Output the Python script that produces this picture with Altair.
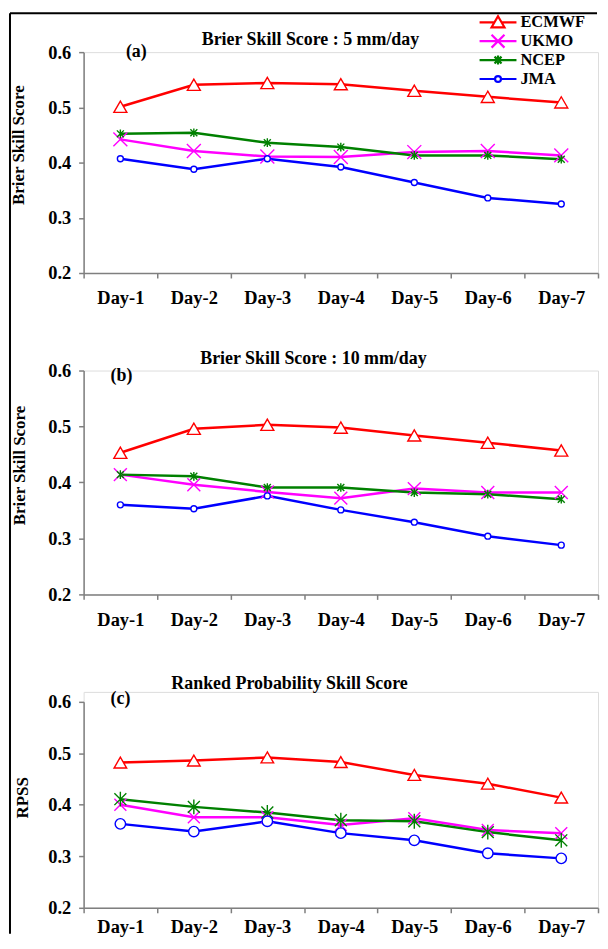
import altair as alt
import pandas as pd

days = ["Day-1", "Day-2", "Day-3", "Day-4", "Day-5", "Day-6", "Day-7"]
models = ["ECMWF", "UKMO", "NCEP", "JMA"]
colors = ["#FF0000", "#FF00FF", "#008000", "#0000FF"]

# (a) Brier Skill Score : 5 mm/day
bss5_ecmwf = [0.501, 0.541, 0.544, 0.542, 0.530, 0.519, 0.509]
bss5_ukmo = [0.442, 0.421, 0.411, 0.410, 0.419, 0.421, 0.413]
bss5_ncep = [0.452, 0.454, 0.436, 0.428, 0.413, 0.413, 0.406]
bss5_jma = [0.407, 0.388, 0.407, 0.392, 0.364, 0.336, 0.325]

# (b) Brier Skill Score : 10 mm/day
bss10_ecmwf = [0.453, 0.496, 0.503, 0.498, 0.484, 0.471, 0.457]
bss10_ukmo = [0.414, 0.396, 0.383, 0.372, 0.389, 0.382, 0.382]
bss10_ncep = [0.414, 0.411, 0.391, 0.391, 0.382, 0.379, 0.370]
bss10_jma = [0.360, 0.353, 0.376, 0.351, 0.329, 0.304, 0.288]

# (c) Ranked Probability Skill Score
rpss_ecmwf = [0.482, 0.486, 0.492, 0.483, 0.458, 0.441, 0.414]
rpss_ukmo = [0.400, 0.376, 0.376, 0.361, 0.374, 0.351, 0.345]
rpss_ncep = [0.411, 0.396, 0.385, 0.370, 0.368, 0.347, 0.331]
rpss_jma = [0.363, 0.348, 0.368, 0.345, 0.331, 0.306, 0.296]

y_ticks = [0.2, 0.3, 0.4, 0.5, 0.6]

FONT = "Liberation Serif"
W = 517

X_PATH = "M-1,-1L1,1M-1,1L1,-1"
STAR_PATH = "M-1,-1L1,1M-1,1L1,-1M0,-1.25L0,1.25"
marker_shapes = ["triangle-up", X_PATH, STAR_PATH, "circle"]

# legend symbols: line with the marker drawn on it (unit = 9 px)
legend_paths = [
    "M-2.06,0H-0.39M0.39,0H2.06M0,-0.68L0.72,0.56L-0.72,0.56Z",
    "M-2.06,0H2.06M-0.72,-0.72L0.72,0.72M-0.72,0.72L0.72,-0.72",
    "M-2.06,0H2.06M-0.39,-0.39L0.39,0.39M-0.39,0.39L0.39,-0.39M0,-0.5V0.5",
    "M-2.06,0H-0.33M0.33,0H2.06M0.33,0A0.33,0.33 0 1,1 -0.33,0A0.33,0.33 0 1,1 0.33,0",
]


def long_df(series):
    rows = []
    for m, vals in zip(models, series):
        for d, v in zip(days, vals):
            rows.append({"day": d, "model": m, "value": v})
    return pd.DataFrame(rows)


def text_layer(s, x, y, align="center", size=18):
    return alt.Chart(pd.DataFrame({"t": [s]})).mark_text(
        font=FONT, fontSize=size, fontWeight="bold", color="black",
        align=align, baseline="middle"
    ).encode(text="t:N", x=alt.value(x), y=alt.value(y))


def legend_layers(x0, y0, step):
    out = []
    for i, (m, col, p) in enumerate(zip(models, colors, legend_paths)):
        yy = y0 + step * i
        sym = alt.Chart(pd.DataFrame({"m": [m]})).mark_point(
            shape=p, size=324, filled=False, stroke=col, strokeWidth=2.2, opacity=1
        ).encode(x=alt.value(x0 + 18.5), y=alt.value(yy))
        out.append(sym)
        out.append(text_layer(m, x0 + 41, yy, align="left", size=16.5))
    return out


def panel(series, h, yrange, label_pad, title, title_x, title_y, ytitle, ytitle_x,
          ytitle_y, tag, tag_x, tag_y, sizes, legend=False, frame=False):
    df = long_df(series)
    x = alt.X("day:N", sort=days,
              scale=alt.Scale(type="band", domain=days, paddingInner=0, paddingOuter=0),
              axis=alt.Axis(title=None, labelAngle=0, labelFont=FONT, labelFontSize=18.5,
                            labelFontWeight="bold", labelColor="black",
                            labelPadding=label_pad, tickBand="extent", tickSize=5,
                            tickColor="#7f7f7f", tickWidth=1.5, domainColor="#7f7f7f",
                            domainWidth=1.5))
    y = alt.Y("value:Q",
              scale=alt.Scale(domain=[0.2, 0.6], nice=False, zero=False, range=yrange),
              axis=alt.Axis(values=y_ticks, format=".1f", grid=False, tickSize=5,
                            tickColor="#7f7f7f", tickWidth=1.5, domainColor="#7f7f7f",
                            domainWidth=1.5, labelFont=FONT, labelFontSize=18.5,
                            labelFontWeight="bold", labelColor="black", labelPadding=8,
                            title=ytitle, titleFont=FONT, titleFontSize=17,
                            titleFontWeight="bold", titleColor="black",
                            titleX=ytitle_x, titleY=ytitle_y, titleBaseline="middle",
                            titleAngle=270))
    base = alt.Chart(df)
    lines = base.mark_line(strokeWidth=2.5).encode(
        x=x, y=y,
        color=alt.Color("model:N", scale=alt.Scale(domain=models, range=colors), legend=None),
    )
    layers = [lines]
    for m, col, shp, sz in zip(models, colors, marker_shapes, sizes):
        pts = base.transform_filter(alt.datum.model == m).mark_point(
            shape=shp, size=sz, filled=True, fill="white", stroke=col,
            strokeWidth=1.4, opacity=1
        ).encode(x=x, y=y)
        layers.append(pts)
    layers.append(text_layer(tag, tag_x, tag_y))
    layers.append(text_layer(title, title_x, title_y))
    if legend:
        layers += legend_layers(398, -30, 19)
    if frame:
        one = alt.Chart(pd.DataFrame({"f": [1]}))
        top_rule = one.mark_rule(color="black", strokeWidth=2).encode(
            x=alt.value(-74), x2=alt.value(516), y=alt.value(-39))
        left_rule = one.mark_rule(color="black", strokeWidth=2).encode(
            x=alt.value(-74), y=alt.value(-39), y2=alt.value(886))
        layers += [top_rule, left_rule]
    return alt.layer(*layers).properties(width=W, height=h)


pa = panel([bss5_ecmwf, bss5_ukmo, bss5_ncep, bss5_jma], 222, [222, 0], 11,
           "Brier Skill Score : 5 mm/day", 228, -12, "Brier Skill Score", -65, 93,
           "(a)", 53, 0, [170, 196, 49, 36], legend=True, frame=True)
pb = panel([bss10_ecmwf, bss10_ukmo, bss10_ncep, bss10_jma], 225, [225, 0], 11,
           "Brier Skill Score : 10 mm/day", 231, -12, "Brier Skill Score", -64, 95,
           "(b)", 38, 6, [170, 169, 49, 36])
pc = panel([rpss_ecmwf, rpss_ukmo, rpss_ncep, rpss_jma], 217, [217, 10], 5,
           "Ranked Probability Skill Score", 207, -8, "RPSS", -61, 106,
           "(c)", 37, 7, [160, 144, 144, 110])

chart = alt.vconcat(pa, pb, pc, spacing=98, bounds="flush").properties(
    padding=0).configure_view(stroke=None).configure(background="white")

chart.save("out.html", embed_options={"renderer": "svg", "actions": False})
